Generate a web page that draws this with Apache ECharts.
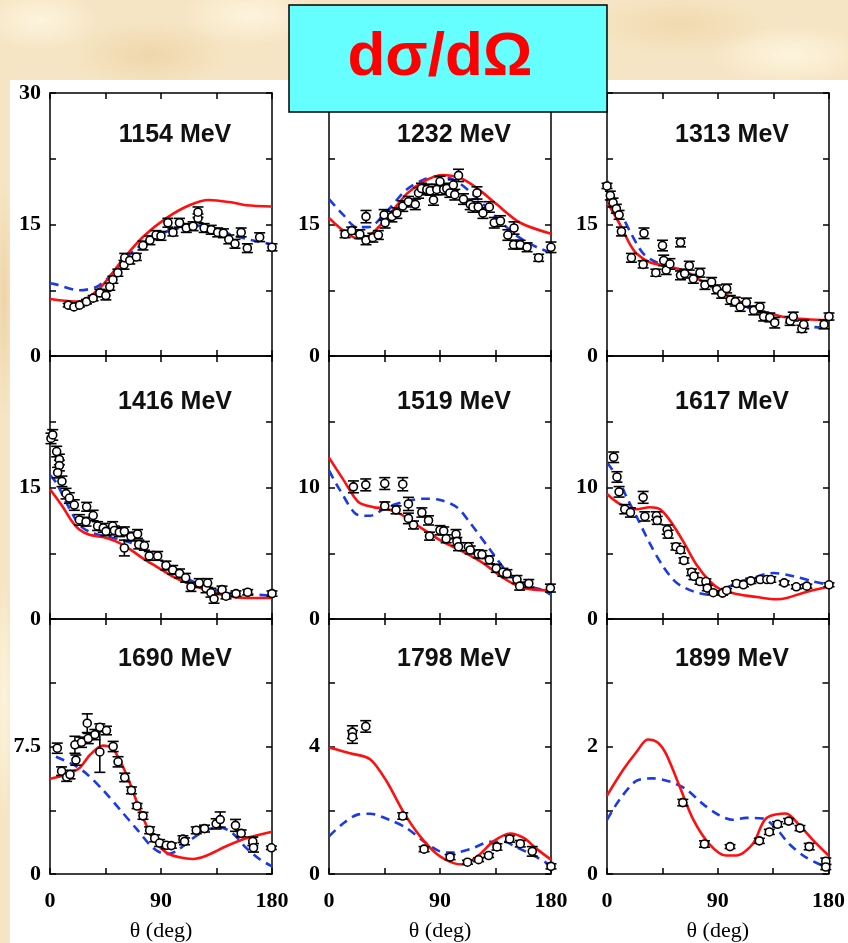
<!DOCTYPE html>
<html>
<head>
<meta charset="utf-8">
<script src="https://cdn.jsdelivr.net/npm/echarts/dist/echarts.min.js"></script>
<style>
  html, body { margin: 0; padding: 0; }
  body {
    width: 848px; height: 943px; position: relative; overflow: hidden;
    background-color: #f6e5c4;
    background-image:
      radial-gradient(ellipse 60px 30px at 40px 20px, rgba(255,248,228,0.8), rgba(255,248,228,0) 100%),
      radial-gradient(ellipse 80px 35px at 150px 55px, rgba(236,208,160,0.7), rgba(236,208,160,0) 100%),
      radial-gradient(ellipse 70px 30px at 250px 15px, rgba(255,248,228,0.8), rgba(255,248,228,0) 100%),
      radial-gradient(ellipse 90px 30px at 680px 25px, rgba(238,212,166,0.7), rgba(238,212,166,0) 100%),
      radial-gradient(ellipse 80px 30px at 790px 55px, rgba(255,248,228,0.8), rgba(255,248,228,0) 100%),
      radial-gradient(ellipse 10px 120px at 4px 300px, rgba(236,208,160,0.8), rgba(236,208,160,0) 100%),
      radial-gradient(ellipse 10px 120px at 4px 700px, rgba(255,248,228,0.8), rgba(255,248,228,0) 100%);
  }
  #sheet { position: absolute; left: 10px; top: 80px; width: 838px; height: 863px; background: #ffffff; }
  #chart { position: absolute; left: 0; top: 0; width: 848px; height: 943px; }
</style>
</head>
<body>
<div id="sheet"></div>
<div id="chart"></div>
<script>
// Differential cross sections dσ/dΩ vs. scattering angle at nine beam energies.
// Each panel: measured points [theta, value, error], a solid red model curve and a dashed blue model curve.

const energies = ['1154 MeV', '1232 MeV', '1313 MeV', '1416 MeV', '1519 MeV', '1617 MeV', '1690 MeV', '1798 MeV', '1899 MeV'];
const yMax  = [30, 30, 30, 30, 20, 20, 15, 8, 4];
const yStep = [7.5, 7.5, 7.5, 7.5, 5, 5, 3.75, 2, 1];
const yTickLabels = [[0, 15, 30], [0, 15, 30], [0, 15, 30], [0, 15], [0, 10], [0, 10], [0, 7.5], [0, 4], [0, 2]];
const xTickLabels = [0, 90, 180];
const xTitle = 'θ (deg)';
const mainTitle = 'dσ/dΩ';

// ---- 1154 MeV ----
const pts1154 = [[14.8,5.8,0.2],[19.4,5.6,0.2],[24,5.8,0.2],[29.6,6.2,0.25],[35,6.6,0.3],[40.4,7.2,0.4],[45.3,6.9,0.5],[48.5,7.9,0.4],[51,8.7,0.4],[55,9.5,0.4],[60,10.4,0.5],[60.6,11.2,0.5],[64.7,10.9,0.4],[70,11.3,0.4],[75.4,12.6,0.5],[81,13.2,0.5],[86,13.8,0.5],[90,13.7,0.5],[95.6,15.2,0.5],[99.7,14.1,0.4],[105,15.2,0.5],[110.5,14.6,0.5],[116,14.8,0.5],[120,15.7,0.5],[120,16.4,0.6],[125,14.6,0.5],[130.7,14.4,0.5],[136,14.1,0.5],[140.6,14.0,0.5],[145,13.3,0.5],[150,12.8,0.5],[155,14.1,0.5],[160,12.3,0.5],[170,13.55,0.5],[180,12.4,0.4]];
const red1154 = [[0,6.5],[23,6.2],[40,7.7],[59,11.0],[75.5,13.6],[94,15.7],[113,17.2],[129,17.8],[148,17.5],[159,17.2],[180,17.05]];
const blue1154 = [[0,8.3],[4,8.2],[24,7.5],[38,7.9],[48.5,9.1],[67,11.9],[81,13.2],[100,14.5],[116,14.9],[132,14.6],[148,13.8],[164,13.2],[180,12.75]];

// ---- 1232 MeV ----
const pts1232 = [[13,13.9,0.4],[18.4,14.3,0.4],[25,13.9,0.5],[30,13.2,0.5],[30,15.9,0.7],[35.5,13.5,0.5],[40,13.8,0.5],[44.7,16.1,0.6],[45.5,15.2,0.6],[51,15.9,0.6],[55,16.3,0.6],[59.8,17.1,0.6],[64.4,17.6,0.6],[70,17.3,0.6],[72.6,18.6,0.6],[75,19.1,0.6],[79.3,19.0,0.6],[82,18.85,0.5],[84.7,17.8,0.6],[87.4,19.0,0.6],[90,19.9,0.6],[93,19.0,0.6],[95.5,19.1,0.6],[98,18.6,0.5],[100.8,19.5,0.6],[102,18.4,0.6],[105,20.6,0.7],[109,17.9,0.6],[114.5,17.3,0.6],[116.7,17.0,0.6],[120,18.6,0.7],[121,17.0,0.6],[124.8,16.3,0.6],[130,17.0,0.6],[134,15.2,0.6],[139,15.4,0.6],[145,13.8,0.6],[150,14.6,0.7],[149.7,12.7,0.5],[155,12.7,0.5],[160.6,12.4,0.5],[170,11.2,0.4],[180,12.4,0.6]];
const red1232 = [[0,15.75],[23.8,13.4],[33.3,13.8],[46.8,15.75],[63,18.5],[76.6,19.9],[91.5,20.65],[106.4,20.3],[120,19.15],[136,17.3],[155,15.2],[180,13.95]];
const blue1232 = [[0,17.9],[11.6,16.1],[22.5,14.7],[32,14.7],[46.8,16.5],[63,19.0],[76.6,20.1],[90,20.5],[103.7,19.9],[120,18.0],[136,15.75],[152.4,13.7],[168.6,12.4],[180,11.8]];

// ---- 1313 MeV ----
const pts1313 = [[0,19.4,0.3],[2.7,18.3,0.5],[4.9,17.5,0.5],[7.6,16.8,0.5],[9.8,16.1,0.5],[11.7,14.2,0.5],[19.8,11.2,0.5],[29.3,10.45,0.4],[30,14.0,0.6],[39.6,9.5,0.4],[45,12.6,0.6],[46,10.9,0.6],[48,9.8,0.5],[51,10.5,0.6],[59.6,12.95,0.5],[59.6,9.2,0.5],[63,9.4,0.5],[66.7,10.3,0.5],[70,8.8,0.5],[75.4,9.5,0.5],[79.4,8.1,0.5],[84.8,8.45,0.5],[89,7.6,0.5],[93,7.1,0.5],[97,7.7,0.5],[100,6.4,0.5],[104,6.2,0.5],[108,5.6,0.5],[113,6.1,0.5],[119,5.2,0.5],[124,5.6,0.5],[127,4.5,0.5],[132,4.4,0.5],[136,3.8,0.6],[148.5,4.0,0.5],[151,4.5,0.5],[158,3.1,0.4],[159.5,3.6,0.5],[176,3.6,0.5],[180,4.5,0.4]];
const red1313 = [[0,17.5],[4.9,16.4],[11.7,14.7],[18.4,12.8],[23.9,11.7],[34.7,10.7],[51,10.2],[64.5,9.6],[78,8.45],[91.6,7.3],[105,6.4],[118.7,5.4],[132,4.85],[145.8,4.4],[162,4.2],[180,4.1]];
const blue1313 = [[0,20.0],[6.2,17.9],[13,15.8],[19.8,13.9],[29.3,11.7],[40,10.7],[56.4,10.0],[70,9.2],[83.5,8.1],[97,6.9],[110.6,5.8],[124,4.85],[137.7,4.15],[151.3,3.6],[167.5,3.3],[180,3.25]];

// ---- 1416 MeV ----
const pts1416 = [[0.8,20.6,0.6],[2.2,21.0,0.6],[5.4,19.1,0.6],[7.6,18.2,0.6],[7.6,17.5,0.6],[6.2,16.7,0.6],[9.7,15.7,0.6],[13,14.3,0.6],[15.7,13.8,0.6],[19.7,13.0,0.6],[23.8,11.3,0.6],[29.2,11.1,0.5],[29.7,12.8,0.5],[35,11.8,0.6],[38.6,10.6,0.5],[43.2,10.4,0.5],[45.4,10.0,0.5],[50.8,10.6,0.5],[52.2,10.1,0.5],[56.2,9.9,0.5],[60.3,10.0,0.5],[60.3,8.1,0.9],[65.7,9.4,0.5],[71,9.7,0.5],[72,8.5,0.5],[76.5,8.35,0.5],[80.5,7.2,0.5],[87.3,7.2,0.5],[94,6.1,0.5],[99.5,5.6,0.5],[105,5.2,0.5],[110,4.7,0.5],[114.3,3.65,0.5],[121,4.1,0.5],[126.5,3.5,0.5],[127.8,4.1,0.5],[130.5,3.0,0.5],[133,2.3,0.5],[139.5,3.35,0.4],[142.7,2.6,0.3],[150.8,2.9,0.3],[160.3,3.05,0.3],[180,2.9,0.3]];
const red1416 = [[0,14.8],[10.3,12.8],[17,11.3],[23.8,10.2],[31.9,9.6],[42.7,9.35],[53.5,8.85],[64.3,8.0],[75,6.95],[86,6.0],[99.5,4.85],[113,4.0],[126.5,3.35],[142.7,2.65],[159,2.4],[180,2.4]];
const blue1416 = [[0,16.4],[5.4,15.5],[12,13.6],[21,11.3],[26.5,10.4],[34.6,9.8],[45.4,9.4],[59,9.0],[72.4,8.3],[86,6.95],[99.5,5.6],[113,4.5],[126.5,3.65],[142.7,3.0],[159,2.85],[180,2.65]];

// ---- 1519 MeV ----
const pts1519 = [[19.8,10.05,0.45],[29.8,10.2,0.45],[45.2,10.3,0.45],[45.2,8.6,0.3],[54.4,8.3,0.3],[59.8,10.25,0.5],[64.4,8.75,0.5],[64.4,7.65,0.4],[68.5,7.15,0.3],[75.3,8.1,0.35],[80.7,7.5,0.35],[81.5,6.3,0.3],[90,6.75,0.35],[93,6.7,0.3],[95,6.1,0.3],[103,6.45,0.35],[103.7,5.9,0.3],[105,5.5,0.3],[113,5.5,0.3],[114.5,5.25,0.3],[121,4.95,0.3],[124,4.9,0.3],[130,4.5,0.3],[135.6,3.85,0.3],[141,3.55,0.3],[144.3,3.45,0.3],[152.4,3.0,0.3],[154.6,2.5,0.3],[162,2.7,0.3],[179.5,2.35,0.3]];
const red1519 = [[0,12.27],[11.6,10.6],[23.8,8.9],[36,8.5],[45.5,8.4],[57.7,8.0],[71.2,7.15],[90,6.0],[109,5.1],[125,4.25],[141.6,3.1],[157.8,2.35],[180,2.17]];
const blue1519 = [[0,11.3],[8.9,9.8],[23.8,7.9],[33.3,7.85],[46.8,8.5],[60.4,8.9],[76.6,9.15],[90,9.05],[103.7,8.5],[114.5,7.3],[130.8,5.25],[144.3,3.6],[157.8,2.6],[171.4,2.27],[180,1.85]];

// ---- 1617 MeV ----
const pts1617 = [[5.4,12.3,0.4],[8.1,10.8,0.4],[9.8,9.67,0.4],[14.4,8.35,0.35],[19,8.1,0.35],[29.3,9.25,0.45],[30.7,7.8,0.35],[40.1,7.85,0.3],[40.7,7.5,0.3],[48.8,6.8,0.35],[49.6,6.45,0.3],[55.9,5.5,0.25],[59.6,5.25,0.25],[62.4,4.45,0.2],[68.6,3.55,0.25],[70.5,3.25,0.25],[75.4,2.85,0.2],[80.2,2.85,0.2],[81.3,2.35,0.2],[86.1,2.0,0.15],[93.7,1.97,0.15],[97,2.17,0.15],[105,2.7,0.2],[110.6,2.6,0.15],[116.6,2.9,0.2],[124.2,3.0,0.15],[129.6,3.0,0.15],[132.8,3.0,0.2],[143.7,2.75,0.15],[153.5,2.45,0.15],[162,2.5,0.15],[180,2.6,0.15]];
const red1617 = [[0,9.5],[10.3,8.75],[23.9,8.35],[34.7,8.5],[42.8,8.35],[51,7.5],[61.8,5.9],[72.7,4.1],[83.5,2.85],[91.6,2.27],[105,1.9],[121.5,1.67],[137.7,1.5],[145.8,1.6],[159.4,2.0],[180,2.47]];
const blue1617 = [[0,11.9],[9,10.7],[15.7,9.3],[23.9,7.8],[34.7,5.75],[45.5,4.0],[56.4,2.75],[70,2.1],[83.5,1.85],[91.6,2.1],[105,2.75],[118.7,3.15],[135,3.5],[151.3,3.25],[167.5,2.85],[180,2.6]];

// ---- 1690 MeV ----
const pts1690 = [[5.9,7.4,0.3],[9.4,6.05,0.25],[13.5,5.7,0.25],[16.2,5.85,0.25],[20.2,7.6,0.5],[21,6.7,0.3],[25.6,7.75,0.3],[30.2,8.87,0.55],[31,7.97,0.3],[36.4,8.2,0.3],[40.4,8.63,0.2],[40.4,7.18,1.2],[45.8,8.44,0.25],[51.2,7.5,0.3],[55.2,6.6,0.3],[60.6,5.68,0.25],[66,4.92,0.2],[70.6,4.0,0.15],[75.4,3.42,0.2],[80.8,2.57,0.2],[84.9,2.1,0.2],[88.9,1.82,0.2],[94.3,1.69,0.2],[98.4,1.67,0.15],[107.8,2.05,0.2],[109.1,1.92,0.2],[118.6,2.57,0.2],[125.3,2.67,0.2],[134.7,2.95,0.3],[138,3.2,0.45],[150.4,2.86,0.35],[155,2.39,0.2],[164.4,1.92,0.25],[165,1.54,0.25],[179.5,1.54,0.1]];
const red1690 = [[0,5.6],[13.5,5.85],[24.2,6.25],[32.3,7.0],[43.1,7.55],[51.2,7.35],[62,5.85],[72.7,3.8],[83.5,2.1],[94.3,1.26],[105,0.98],[115.9,0.88],[126.6,1.07],[142.8,1.63],[159,2.1],[180,2.48]];
const blue1690 = [[4.8,6.9],[18.9,6.43],[29.6,5.9],[43.1,4.93],[56.6,3.8],[70,2.67],[83.5,1.54],[94.3,1.17],[102.4,1.35],[115.9,2.1],[126.6,2.57],[137.4,2.76],[148.2,2.39],[159,1.54],[169.8,0.88],[180,0.45]];

// ---- 1798 MeV ----
const pts1798 = [[19,4.45,0.2],[19,4.3,0.2],[29.8,4.63,0.18],[59.8,1.82,0.1],[77.1,0.78,0.08],[98.2,0.53,0.08],[112.3,0.37,0.06],[121.3,0.45,0.06],[129.4,0.58,0.06],[136.2,0.85,0.1],[146.5,1.1,0.1],[155.1,0.95,0.1],[164.8,0.71,0.15],[180,0.24,0.08]];
const red1798 = [[0,3.97],[17,3.79],[33.3,3.6],[46.8,2.9],[60.4,1.94],[73.9,1.18],[87.4,0.63],[101,0.34],[109,0.3],[122.6,0.63],[133.5,1.03],[147,1.27],[157.8,1.13],[168.6,0.78],[180,0.45]];
const blue1798 = [[0,1.18],[11.6,1.59],[23.8,1.87],[33.3,1.89],[49.5,1.69],[63,1.44],[76.6,1.03],[90,0.71],[101,0.67],[114.5,0.78],[130.8,1.01],[141.6,1.01],[152.4,0.83],[166,0.58],[180,0.27]];

// ---- 1899 MeV ----
const pts1899 = [[61.6,1.12,0.05],[79.2,0.47,0.05],[100,0.43,0.03],[123.8,0.52,0.04],[131.9,0.66,0.04],[138.6,0.78,0.04],[147.6,0.83,0.04],[156.8,0.72,0.04],[164.3,0.43,0.05],[177.8,0.2,0.05],[177.8,0.11,0.04]];
const red1899 = [[0,1.23],[13,1.63],[23.8,1.91],[33.2,2.11],[41.4,2.06],[48.1,1.88],[58.9,1.38],[69.7,0.87],[83.2,0.47],[96.8,0.29],[104.9,0.29],[118.4,0.47],[129.2,0.87],[145.4,0.95],[156.2,0.77],[167,0.54],[180,0.29]];
const blue1899 = [[0,0.85],[10.3,1.17],[23.8,1.46],[37.3,1.5],[50.8,1.45],[64.3,1.33],[77.8,1.1],[91.4,0.92],[102.2,0.85],[113,0.88],[126.5,0.87],[137.3,0.72],[148.1,0.47],[161.7,0.26],[180,0.09]];

const points = [pts1154, pts1232, pts1313, pts1416, pts1519, pts1617, pts1690, pts1798, pts1899];
const redCurves = [red1154, red1232, red1313, red1416, red1519, red1617, red1690, red1798, red1899];
const blueCurves = [blue1154, blue1232, blue1313, blue1416, blue1519, blue1617, blue1690, blue1798, blue1899];

// ---- layout ----
const colLeft = [50, 329, 607];
const rowTop = [93, 356, 619];
const panelW = 222, panelH = 263;
const titleDx = 125;
const titleDy = [42, 46, 40];

const serif = '"Liberation Serif", "Times New Roman", serif';
const sans = '"Liberation Sans", Arial, Helvetica, sans-serif';
const axisLine = { show: true, onZero: false, lineStyle: { color: '#000', width: 1.5 } };
const axisTick = { show: true, inside: true, length: 6, lineStyle: { color: '#000', width: 1.5 } };

function hasLabel(list, v) {
  return list.some(t => Math.abs(t - v) < 1e-6);
}

const grids = [], xAxes = [], yAxes = [], series = [], graphics = [];

for (let i = 0; i < 9; i++) {
  const r = Math.floor(i / 3), c = i % 3;
  const bottomRow = r === 2;
  grids.push({ left: colLeft[c], top: rowTop[r], width: panelW, height: panelH, containLabel: false });

  // bottom and top x axes
  xAxes.push({
    gridIndex: i, type: 'value', min: 0, max: 180, interval: 45, position: 'bottom',
    axisLine, axisTick, splitLine: { show: false },
    axisLabel: {
      show: bottomRow, margin: 16, color: '#000', fontFamily: serif, fontSize: 22, fontWeight: 'bold',
      formatter: v => hasLabel(xTickLabels, v) ? String(v) : ''
    },
    name: bottomRow ? xTitle : '', nameLocation: 'middle', nameGap: 46,
    nameTextStyle: { color: '#000', fontFamily: serif, fontSize: 22 }
  });
  xAxes.push({
    gridIndex: i, type: 'value', min: 0, max: 180, interval: 45, position: 'top',
    axisLine, axisTick, splitLine: { show: false }, axisLabel: { show: false }
  });

  // left and right y axes
  yAxes.push({
    gridIndex: i, type: 'value', min: 0, max: yMax[i], interval: yStep[i], position: 'left',
    axisLine, axisTick, splitLine: { show: false },
    axisLabel: {
      show: true, margin: 9, color: '#000', fontFamily: serif, fontSize: 22, fontWeight: 'bold',
      showMinLabel: true, showMaxLabel: true,
      formatter: v => hasLabel(yTickLabels[i], v) ? String(v) : ''
    }
  });
  yAxes.push({
    gridIndex: i, type: 'value', min: 0, max: yMax[i], interval: yStep[i], position: 'right',
    axisLine, axisTick, splitLine: { show: false }, axisLabel: { show: false }
  });

  const xi = 2 * i, yi = 2 * i;

  series.push({
    type: 'line', xAxisIndex: xi, yAxisIndex: yi, data: blueCurves[i],
    showSymbol: false, smooth: 0.3, z: 3,
    lineStyle: { color: '#1a3ae8', width: 2.6, type: [9, 6] }
  });
  series.push({
    type: 'line', xAxisIndex: xi, yAxisIndex: yi, data: redCurves[i],
    showSymbol: false, smooth: 0.3, z: 4,
    lineStyle: { color: '#ff1010', width: 2.6 }
  });
  series.push({
    type: 'custom', xAxisIndex: xi, yAxisIndex: yi, data: points[i], z: 5, clip: false,
    encode: { x: 0, y: 1 },
    renderItem: (params, api) => {
      const x = api.value(0), y = api.value(1), e = api.value(2);
      const top = api.coord([x, y + e]);
      const bot = api.coord([x, y - e]);
      const hw = 5.5;
      const st = { stroke: '#000', lineWidth: 1.6 };
      return {
        type: 'group',
        children: [
          { type: 'line', shape: { x1: top[0], y1: top[1], x2: bot[0], y2: bot[1] }, style: st },
          { type: 'line', shape: { x1: top[0] - hw, y1: top[1], x2: top[0] + hw, y2: top[1] }, style: st },
          { type: 'line', shape: { x1: bot[0] - hw, y1: bot[1], x2: bot[0] + hw, y2: bot[1] }, style: st }
        ]
      };
    }
  });
  series.push({
    type: 'scatter', xAxisIndex: xi, yAxisIndex: yi, data: points[i].map(p => [p[0], p[1]]),
    symbol: 'circle', symbolSize: 8, z: 6, clip: false,
    itemStyle: { color: '#ffffff', opacity: 1, borderColor: '#000', borderWidth: 1.6 }
  });

  graphics.push({
    type: 'text', x: colLeft[c] + titleDx, y: rowTop[r] + titleDy[r], z: 50,
    style: {
      text: energies[i], fill: '#111', font: 'bold 25px ' + sans,
      textAlign: 'center', textVerticalAlign: 'middle'
    }
  });
}

// title box
graphics.push({
  type: 'rect', z: 100, shape: { x: 289, y: 5, width: 318, height: 107 },
  style: { fill: '#66ffff', stroke: '#000', lineWidth: 1.5 }
});
graphics.push({
  type: 'text', z: 101, x: 440, y: 58,
  style: { text: mainTitle, fill: '#ff0000', font: 'bold 62px ' + sans, textAlign: 'center', textVerticalAlign: 'middle' }
});

const chart = echarts.init(document.getElementById('chart'), null, { renderer: 'canvas' });
chart.setOption({
  animation: false,
  backgroundColor: 'transparent',
  grid: grids,
  xAxis: xAxes,
  yAxis: yAxes,
  series: series,
  graphic: { elements: graphics }
});
</script>
</body>
</html>
